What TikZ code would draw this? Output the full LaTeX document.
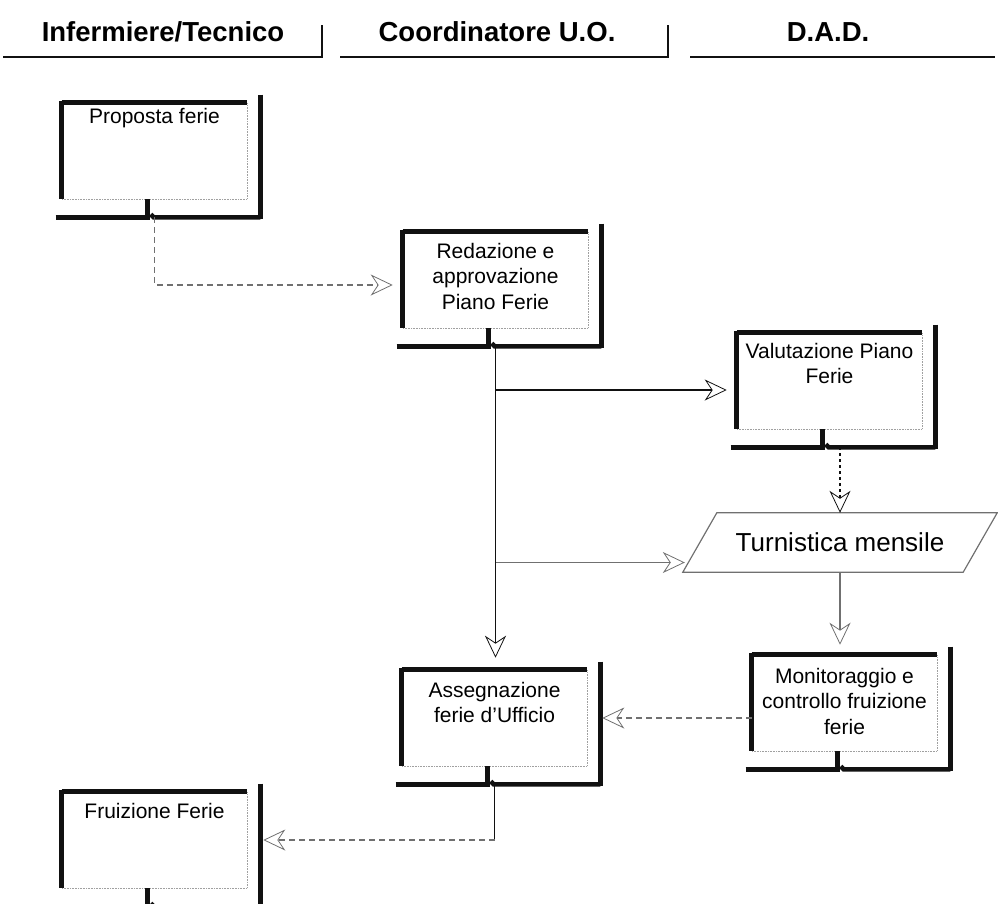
\documentclass[tikz,border=0pt]{standalone}
\usepackage{fontspec}
\setmainfont{Liberation Sans}
\usetikzlibrary{positioning, arrows.meta}
\definecolor{edgeBlack}{HTML}{111111}
\definecolor{faintGray}{HTML}{A0A0A0}
\definecolor{lineGray}{HTML}{707070}

\newcommand{\boxedges}[1]{%
  \draw[thickedge] ([yshift=2pt]#1.north west) -- (#1.south west);
  \draw[thickedge] (#1.north west) -- (#1.north east);
  \draw[thickedge] ([xshift=13pt,yshift=8pt]#1.north east) -- ([xshift=13pt,yshift=-20pt]#1.south east);
  \draw[thickedge] ([xshift=-6pt,yshift=-18pt]#1.south west) -- ([xshift=86pt,yshift=-18pt]#1.south west) -- ([xshift=86pt]#1.south west);
  \draw[thickedge] ([xshift=89pt,yshift=-15pt]#1.south west) -- ([xshift=92pt,yshift=-18pt]#1.south west) -- ([xshift=13pt,yshift=-18pt]#1.south east);
}

\begin{document}
\begin{tikzpicture}[x=1pt, y=-1pt,
    >={Stealth[open, length=22pt, width=21pt, inset=7pt, line width=0.8pt]},
    hdr/.style={font=\bfseries\fontsize{27.5}{32}\selectfont, inner sep=0pt, anchor=base},
    hdrline/.style={edgeBlack, line width=2.6pt},
    taskbox/.style={rectangle, draw=faintGray, densely dotted, line width=0.6pt,
      minimum width=185pt, minimum height=96pt, inner sep=0pt},
    thickedge/.style={edgeBlack, line width=4.5pt, solid},
    tasktext/.style={font=\fontsize{21}{25.5}\selectfont, align=center, inner sep=0pt},
    paraedge/.style={lineGray, line width=1.2pt},
    flow/.style={->, edgeBlack, line width=1.6pt},
    flowlight/.style={->, lineGray, line width=1.2pt},
    flowdot/.style={->, edgeBlack, line width=1.5pt, dash pattern=on 3pt off 3pt},
    flowdash/.style={->, lineGray, line width=1.1pt, dash pattern=on 6pt off 4pt},
  ]
  \useasboundingbox (0,0) rectangle (998,903);

  \node[hdr] (hdr-inf) at (163,41) {Infermiere/Tecnico};
  \node[hdr] (hdr-coord) at (497,41) {Coordinatore U.O.};
  \node[hdr] (hdr-dad) at (828,41) {D.A.D.};
  \draw[hdrline] (3,57) -- (322,57) -- (322,25);
  \draw[hdrline] (340,57) -- (668,57) -- (668,25);
  \draw[hdrline] (690,57) -- (995,57);

  \node[taskbox] (prop) at (154.5,151) {};
  \node[taskbox] (redaz) at (495.5,280) {};
  \node[taskbox] (valut) at (829.5,381) {};
  \node[taskbox] (monit) at (844.5,703) {};
  \node[taskbox] (assegn) at (494.5,718) {};
  \node[taskbox] (fruiz) at (154.5,840) {};
  \foreach \n in {prop,redaz,valut,monit,assegn,fruiz} {\boxedges{\n}}

  \node[tasktext, below=5pt of prop.north] (prop-t) {Proposta ferie};
  \node[tasktext, yshift=4pt] (redaz-t) at (redaz) {Redazione e\\approvazione\\Piano Ferie};
  \node[tasktext, below=10pt of valut.north] (valut-t) {Valutazione Piano\\Ferie};
  \node[tasktext, yshift=2pt] (monit-t) at (monit) {Monitoraggio e\\controllo fruizione\\ferie};
  \node[tasktext, below=12pt of assegn.north] (assegn-t) {Assegnazione\\ferie d'Ufficio};
  \node[tasktext, below=11pt of fruiz.north] (fruiz-t) {Fruizione Ferie};

  \node[font=\fontsize{26}{30}\selectfont, minimum width=280pt, minimum height=59pt, inner sep=0pt]
    (turn) at (840,542.5) {Turnistica mensile};
  \draw[paraedge] ([xshift=-17pt]turn.south west) -- ([xshift=17pt]turn.north west)
    -- ([xshift=17pt]turn.north east) -- ([xshift=-17pt]turn.south east) -- cycle;

  \coordinate (redaz-in) at ([xshift=-10pt,yshift=-5pt]redaz.west);
  \coordinate (valut-in) at ([xshift=-10pt,yshift=-9pt]valut.west);
  \coordinate (turn-in) at ([xshift=-15pt,yshift=-20pt]turn.west);
  \coordinate (bend) at (assegn.south |- fruiz.east);

  \draw[flowdash, shorten <=18pt] (prop.south) |- (redaz-in);
  \draw[flowlight, shorten <=18pt] (redaz.south) |- (turn-in);
  \draw[flow, shorten <=18pt, shorten >=12pt] (redaz.south) -- (redaz.south |- assegn.north);
  \draw[flow, shorten <=18pt] (redaz.south) |- (valut-in);
  \draw[flowdot, shorten <=18pt] (turn.north |- valut.south) -- (turn.north);
  \draw[flowlight, shorten >=10pt] (turn.south) -- (turn.south |- monit.north);
  \draw[flowdash] (monit.west |- assegn.east) -- ([xshift=15pt]assegn.east);
  \draw[edgeBlack, line width=1pt, shorten <=18pt] (assegn.south) -- (bend);
  \draw[flowdash] (bend) -- ([xshift=16pt]fruiz.east);
\end{tikzpicture}
\end{document}
